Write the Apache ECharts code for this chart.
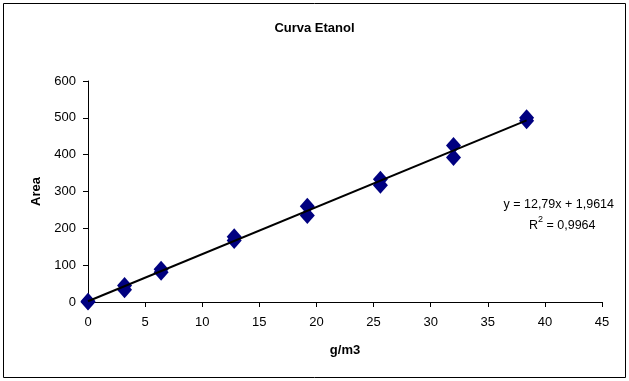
<!DOCTYPE html>
<html><head><meta charset="utf-8">
<script src="https://cdn.jsdelivr.net/npm/echarts@6/dist/echarts.min.js"></script>
<style>html,body{margin:0;padding:0;background:#fff}#c{width:629px;height:381px}</style>
</head><body><div id="c"></div>
<script>
var xValues = [0, 0, 3.2, 3.2, 6.4, 6.4, 12.8, 12.8, 19.2, 19.2, 25.6, 25.6, 32, 32, 38.4, 38.4];
var yValues = [0, 2, 45, 33, 89, 81, 177, 167, 260, 235, 333, 317, 425, 392, 500, 492];
var xTicks = [0, 5, 10, 15, 20, 25, 30, 35, 40, 45];
var yTicks = [0, 100, 200, 300, 400, 500, 600];
var slope = 12.79, intercept = 1.9614, r2Text = '0,9964';
var trendX = [0, 38.4];

var chart = echarts.init(document.getElementById('c'));
var pts = xValues.map(function(x, i){ return [x, yValues[i]]; });
var trend = trendX.map(function(x){ return [x, slope * x + intercept]; });
var font = 'Liberation Sans, Arial, sans-serif';
chart.setOption({
  animation: false,
  backgroundColor: '#fff',
  title: { text: 'Curva Etanol', left: 'center', top: 17,
    textStyle: { fontFamily: font, fontSize: 13, fontWeight: 'bold', color: '#000' } },
  grid: { left: 88, right: 27, top: 81, bottom: 79 },
  xAxis: {
    type: 'value', min: 0, max: 45, interval: 5,
    name: 'g/m3', nameLocation: 'middle', nameGap: 42,
    nameTextStyle: { fontFamily: font, fontSize: 13, fontWeight: 'bold', color: '#000' },
    axisLine: { lineStyle: { color: '#000', width: 1 } },
    axisTick: { show: true, length: 5, lineStyle: { color: '#000' } },
    axisLabel: { fontFamily: font, fontSize: 13, color: '#000', margin: 14,
      formatter: function(v){ return xTicks.indexOf(v) >= 0 ? String(v) : ''; } },
    splitLine: { show: false }
  },
  yAxis: {
    type: 'value', min: 0, max: 600, interval: 100,
    name: 'Area', nameLocation: 'middle', nameGap: 44, nameRotate: 90,
    nameTextStyle: { fontFamily: font, fontSize: 13, fontWeight: 'bold', color: '#000' },
    axisLine: { show: true, lineStyle: { color: '#000', width: 1 } },
    axisTick: { show: true, length: 5, lineStyle: { color: '#000' } },
    axisLabel: { fontFamily: font, fontSize: 13, color: '#000', margin: 12,
      formatter: function(v){ return yTicks.indexOf(v) >= 0 ? String(v) : ''; } },
    splitLine: { show: false }
  },
  series: [
    { type: 'line', data: trend, symbol: 'none', lineStyle: { color: '#000', width: 2 }, z: 3 },
    { type: 'scatter', data: pts, symbol: 'diamond', symbolSize: [15, 17],
      itemStyle: { color: '#000080', opacity: 1 }, z: 2 }
  ],
  graphic: [
    { type: 'rect', shape: { x: 3.5, y: 3.5, width: 622, height: 374 },
      style: { fill: 'none', stroke: '#000', lineWidth: 1 }, silent: true, z: -1 },
    { type: 'text', right: 15, top: 198,
      style: { text: 'y = 12,79x + 1,9614', font: '12.5px ' + font, fill: '#000' } },
    { type: 'text', left: 529, top: 215,
      style: { text: '{n|R}{s|2}{n| = ' + r2Text + '}', fill: '#000',
        rich: { n: { fontFamily: font, fontSize: 12.5, verticalAlign: 'bottom', lineHeight: 17 },
                s: { fontFamily: font, fontSize: 9, verticalAlign: 'top', lineHeight: 17, padding: [0,0,6,0] } } } }
  ]
});
</script></body></html>
